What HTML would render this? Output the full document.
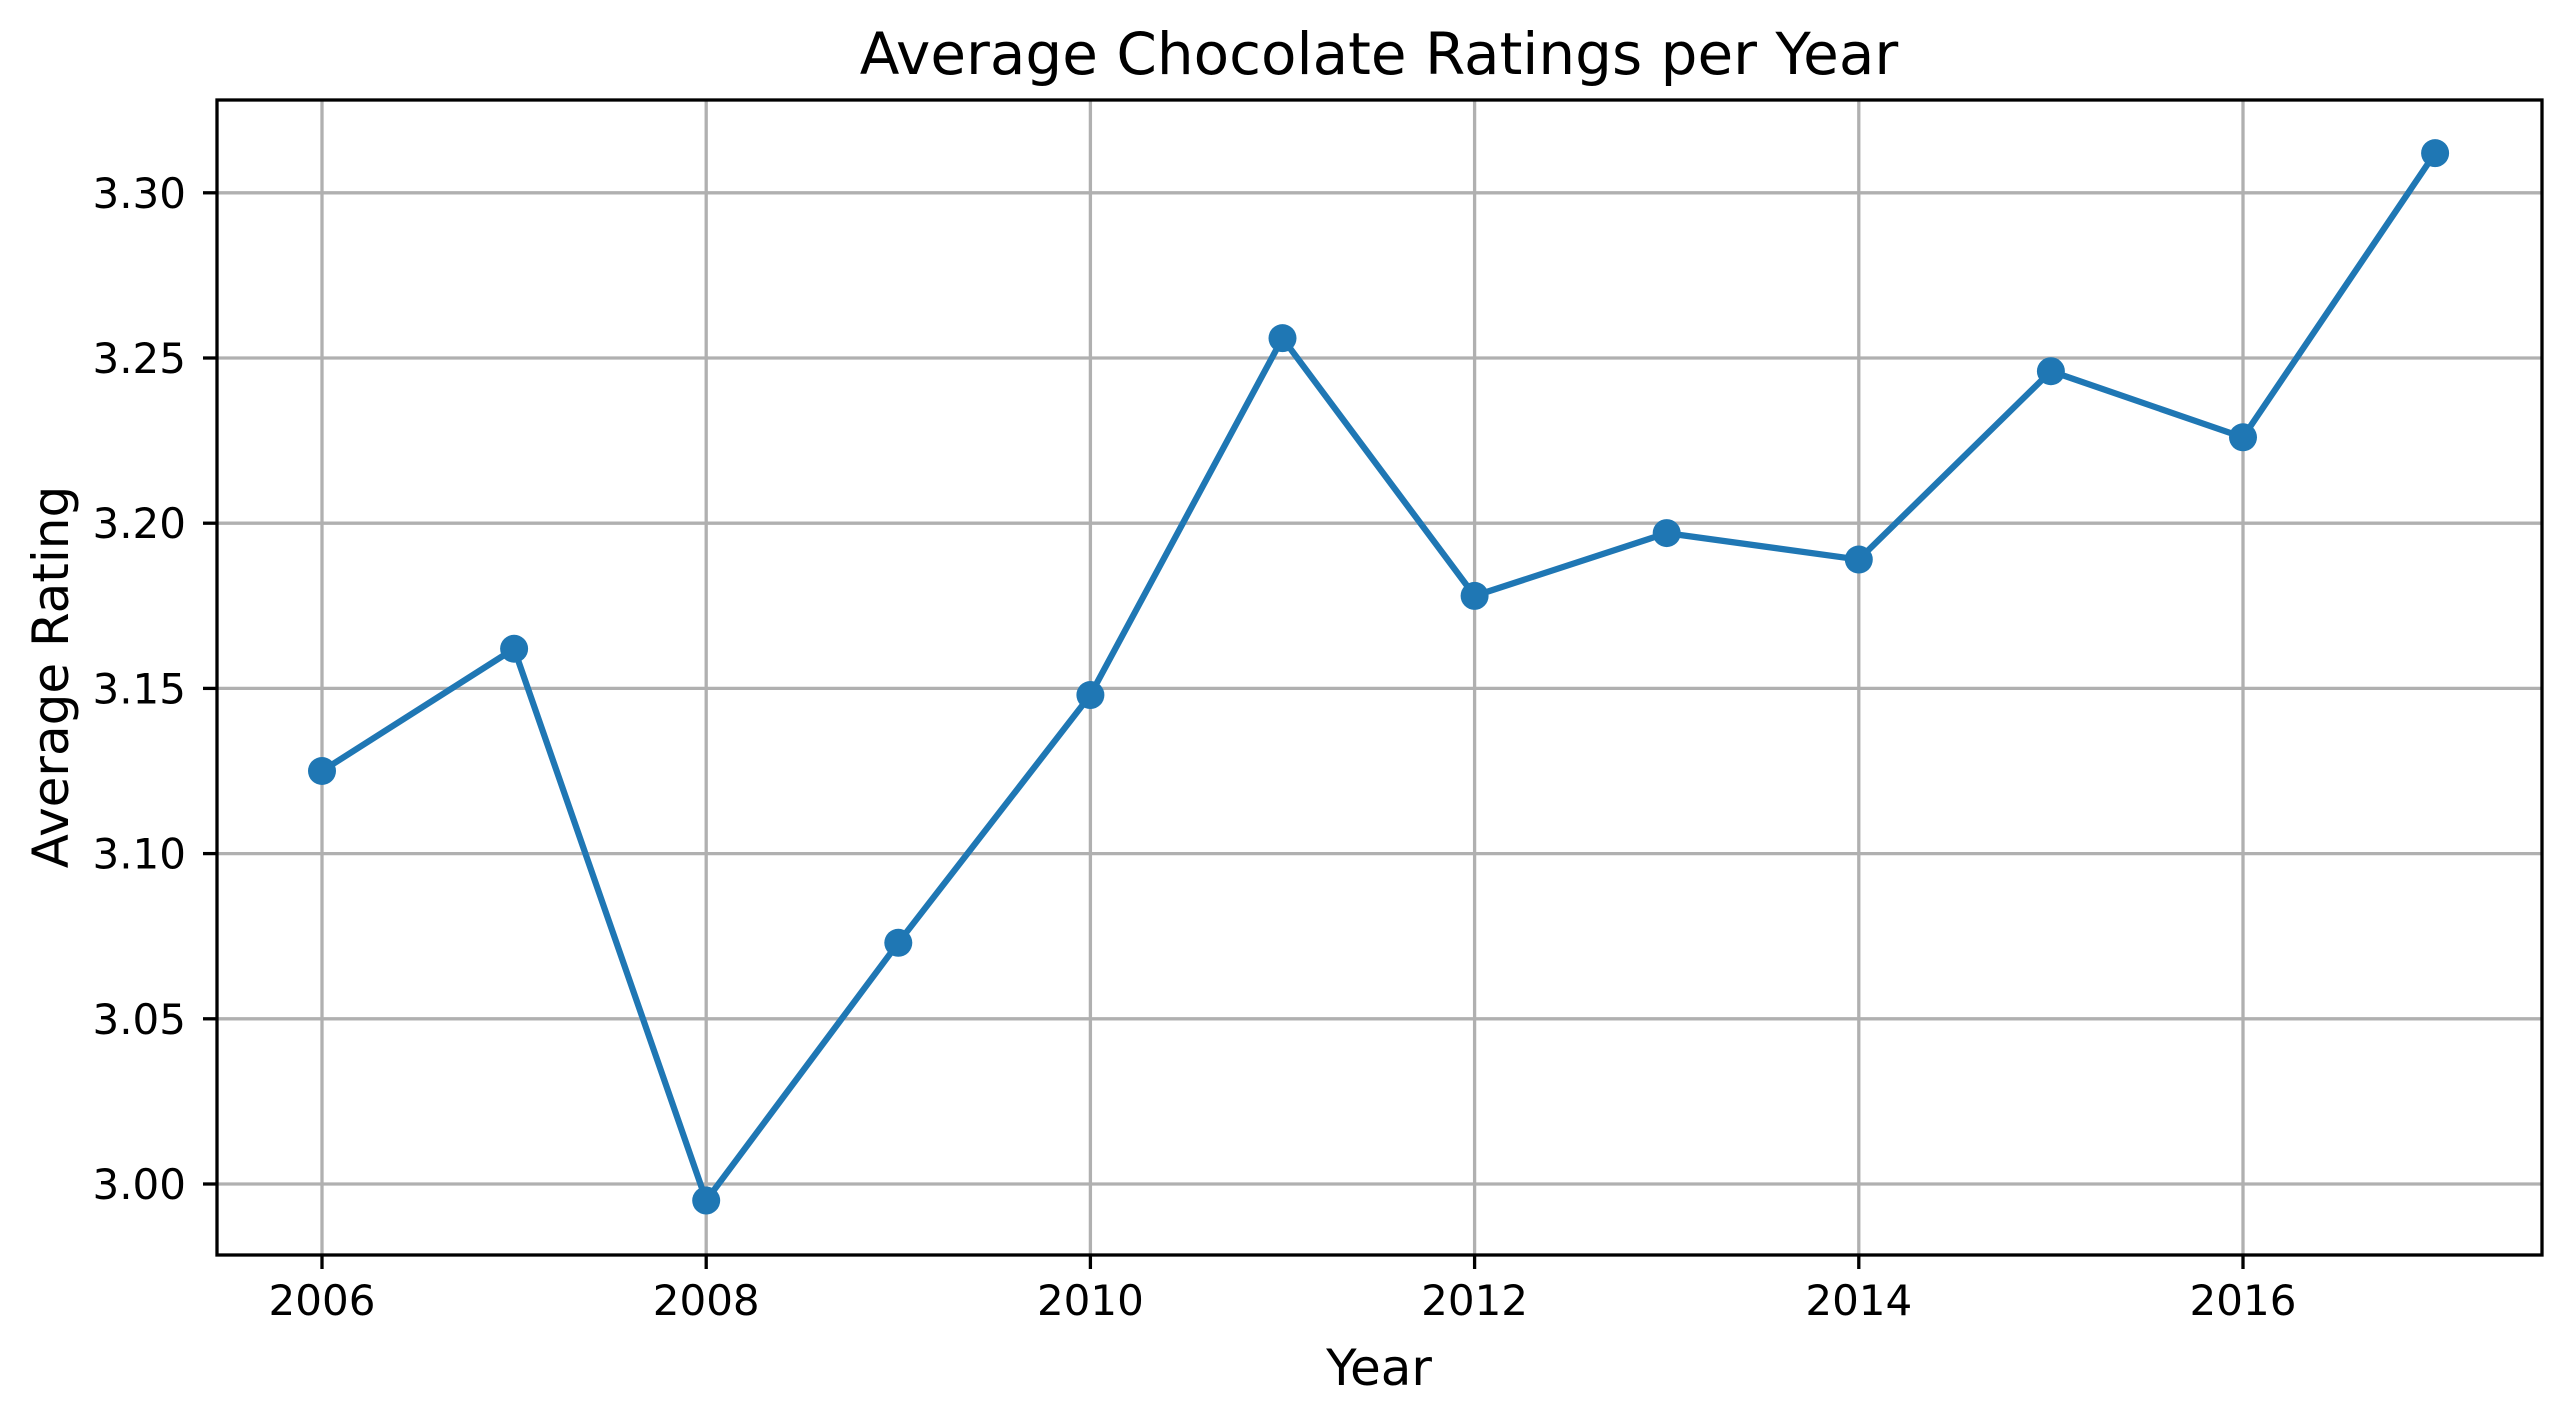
<!DOCTYPE html>
<html><head><meta charset="utf-8"><style>
html,body{margin:0;padding:0;background:#fff;}
svg{display:block;font-family:"DejaVu Sans","Liberation Sans",sans-serif;}
</style></head><body>
<svg id="chart" width="2571" height="1418" viewBox="0 0 2571 1418" xmlns="http://www.w3.org/2000/svg">
<rect x="0" y="0" width="2571" height="1418" fill="#fff"/>
<text x="1379" y="74" font-size="58" text-anchor="middle" fill="#000">Average Chocolate Ratings per Year</text>
<text x="1379" y="1385" font-size="50" text-anchor="middle" fill="#000">Year</text>
<text x="0" y="0" font-size="50" text-anchor="middle" fill="#000" transform="translate(68,677) rotate(-90)">Average Rating</text>
<g id="grid"></g>
<g id="series"></g>
<rect x="217" y="100" width="2325" height="1155" fill="none" stroke="#000" stroke-width="3.3"/>
<g id="ticks"></g>
</svg>
<script>
const years = [2006,2007,2008,2009,2010,2011,2012,2013,2014,2015,2016,2017];
const ratings = [3.125,3.162,2.995,3.073,3.148,3.256,3.178,3.197,3.189,3.246,3.226,3.312];
const xTicks = [2006,2008,2010,2012,2014,2016];
const yTicks = [3.00,3.05,3.10,3.15,3.20,3.25,3.30];
const yTickLabels = ["3.00","3.05","3.10","3.15","3.20","3.25","3.30"];

const NS="http://www.w3.org/2000/svg";
function xs(v){return 322+(v-2006)*192.1;}
function ys(v){return 1184-(v-3.0)*3304;}
function mk(tag,attrs,parent){const e=document.createElementNS(NS,tag);for(const k in attrs)e.setAttribute(k,attrs[k]);parent.appendChild(e);return e;}
const grid=document.getElementById('grid'),ticks=document.getElementById('ticks'),series=document.getElementById('series');
xTicks.forEach(t=>{
  const x=xs(t);
  const g=mk('line',{x1:x,x2:x,y1:100,y2:1255,stroke:'#b0b0b0','stroke-width':3.3},grid);
  
  
  const tk=mk('line',{x1:x,x2:x,y1:1255,y2:1269,stroke:'#000','stroke-width':3.3},ticks);
  
  
  const lb=mk('text',{x:x,y:1315,'font-size':42,'text-anchor':'middle',fill:'#000'},ticks);
  lb.textContent=t;
  
  
});
yTicks.forEach((t,i)=>{
  const y=ys(t);
  const g=mk('line',{x1:217,x2:2542,y1:y,y2:y,stroke:'#b0b0b0','stroke-width':3.3},grid);
  
  
  const tk=mk('line',{x1:203,x2:217,y1:y,y2:y,stroke:'#000','stroke-width':3.3},ticks);
  
  
  const lb=mk('text',{x:186,y:y+15,'font-size':42,'text-anchor':'end',fill:'#000'},ticks);
  lb.textContent=yTickLabels[i];
  
  
});
const pts=years.map((yr,i)=>xs(yr)+','+ys(ratings[i])).join(' ');
const pl=mk('polyline',{points:pts,fill:'none',stroke:'#1f77b4','stroke-width':6.25,'stroke-linejoin':'round'},series);


years.forEach((yr,i)=>{
  const c=mk('circle',{cx:xs(yr),cy:ys(ratings[i]),r:14,fill:'#1f77b4'},series);
  
  
});
</script>
</body></html>
